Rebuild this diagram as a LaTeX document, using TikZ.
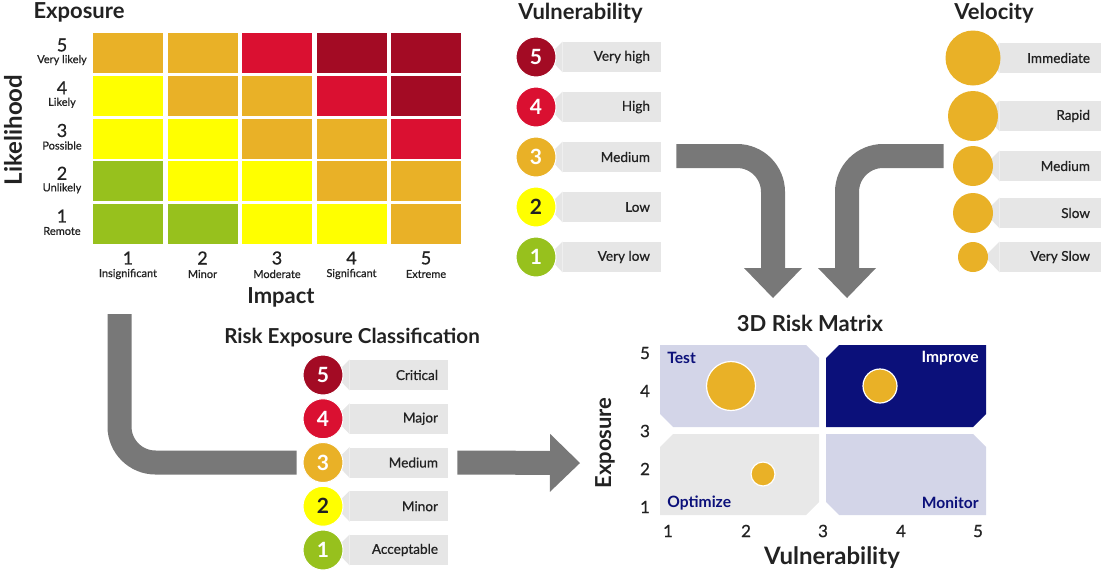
\documentclass[tikz,border=0pt]{standalone}
\usepackage{fontspec}
\setmainfont{Lato}
\newfontfamily\medfont{Lato}[FakeBold=0.6]
\usetikzlibrary{positioning,arrows.meta,backgrounds}

\definecolor{lv1}{RGB}{151,193,29}
\definecolor{lv2}{RGB}{255,255,0}
\definecolor{lv3}{RGB}{233,177,39}
\definecolor{lv4}{RGB}{218,16,49}
\definecolor{lv5}{RGB}{163,11,36}
\definecolor{txt}{RGB}{34,34,34}
\definecolor{tabgray}{RGB}{230,230,230}
\definecolor{arrowgray}{RGB}{120,120,120}
\definecolor{navy}{RGB}{11,16,122}
\definecolor{lav}{RGB}{211,213,232}
\definecolor{pale}{RGB}{232,232,232}

\begin{document}
\begin{tikzpicture}[x=0.5pt, y=-0.5pt,
  ttl/.style={font=\bfseries\fontsize{11}{13}\selectfont, text=txt, inner sep=0},
  num/.style={font=\medfont\fontsize{9}{10}\selectfont, text=txt, inner sep=0},
  small/.style={font=\medfont\fontsize{5.5}{6}\selectfont, text=txt, inner sep=0},
  cell/.style={rectangle, minimum width=35pt, minimum height=20pt, inner sep=0},
  lvl/.style={circle, minimum size=20pt, inner sep=0, draw=white, line width=0.5pt, font=\bfseries\fontsize{10.5}{12}\selectfont},
  tab/.style={rectangle, fill=tabgray, minimum height=15pt, inner sep=0},
  tablbl/.style={font=\medfont\fontsize{6.8}{8}\selectfont, text=txt, inner sep=0},
  speed/.style={circle, fill=lv3, inner sep=0},
  bubble/.style={circle, fill=lv3, draw=white, line width=0.6pt, inner sep=0},
  quad/.style={font=\bfseries\fontsize{7.8}{9}\selectfont, inner sep=0},
  axnum/.style={font=\medfont\fontsize{8.5}{10}\selectfont, text=txt, inner sep=0},
  bigarrow/.style={draw=arrowgray, line width=12pt, rounded corners=18pt},
  bighead/.style={-{Triangle[width=29pt, length=15pt, line width=0pt]}}]
  \useasboundingbox (0,0) rectangle (1101,574);

  % Exposure matrix
  \node[ttl] (expTitle) at (79,12) {Exposure};
  \foreach \r/\row in {5/{3,3,4,5,5}, 4/{2,3,3,4,5}, 3/{2,2,3,3,4}, 2/{1,2,2,3,3}, 1/{1,1,2,2,3}}
    \foreach \lv [count=\c] in \row
      \node[cell, fill=lv\lv] (e\c\r) at ({128+74.5*(\c-1)}, {53+42.75*(5-\r)}) {};
  \foreach \r/\txt in {5/Very likely, 4/Likely, 3/Possible, 2/Unlikely, 1/Remote} {
    \node[num] (ln\r) at (62, {45+42.75*(5-\r)}) {\r};
    \node[small] (lt\r) at (62, {60+42.75*(5-\r)}) {\txt};
  }
  \foreach \c/\txt in {1/Insignificant, 2/Minor, 3/Moderate, 4/Significant, 5/Extreme} {
    \node[num] (in\c) at ({128+74.5*(\c-1)}, 258) {\c};
    \node[small] (it\c) at ({128+74.5*(\c-1)}, 274) {\txt};
  }
  \node[ttl] (impact) at (281,297) {Impact};
  \node[ttl, font=\bfseries\fontsize{12}{14}\selectfont, rotate=90] (likeli) at (13,130) {Likelihood};

  % Vulnerability
  \node[ttl] (vulTitle) at (580.5,13) {Vulnerability};
  \foreach \k/\txt/\tc in {5/Very high/white, 4/High/white, 3/Medium/white, 2/Low/txt, 1/Very low/white} {
    \node[tab, minimum width=49pt] (vt\k) at (612, {57+50*(5-\k)}) {};
    \fill[tabgray] (vt\k.north west) -- ++(-15,15) -- (vt\k.south west) -- cycle;
    \node[tablbl, anchor=east] at ([xshift=-5.5pt]vt\k.east) {\txt};
    \node[lvl, fill=lv\k, text=\tc] (v\k) at (536, {57+50*(5-\k)}) {\k};
  }

  % Velocity
  \node[ttl] (velTitle) at (994,13) {Velocity};
  \foreach \k/\d/\y/\txt in {1/27.5/58/Immediate, 2/25/116/Rapid, 3/20/166/Medium, 4/20/213/Slow, 5/15/257/Very Slow} {
    \node[tab, minimum width=50.5pt] (st\k) at (1050.5,\y) {};
    \fill[tabgray] (st\k.north west) -- ++(-15,15) -- (st\k.south west) -- cycle;
    \node[tablbl, anchor=east] at ([xshift=-5.5pt]st\k.east) {\txt};
    \node[speed, minimum size=\d pt] (s\k) at (973,\y) {};
  }

  % Risk exposure classification
  \node[ttl, font=\bfseries\fontsize{10.3}{12}\selectfont] (rcTitle) at (352,338) {Risk Exposure Classification};
  \foreach \k/\txt/\tc in {5/Critical/white, 4/Major/white, 3/Medium/white, 2/Minor/txt, 1/Acceptable/white} {
    \node[tab, minimum width=49pt] (rt\k) at (399, {375+43.75*(5-\k)}) {};
    \fill[tabgray] (rt\k.north west) -- ++(-15,15) -- (rt\k.south west) -- cycle;
    \node[tablbl, anchor=east] at ([xshift=-5pt]rt\k.east) {\txt};
    \node[lvl, fill=lv\k, text=\tc] (r\k) at (323, {375+43.75*(5-\k)}) {\k};
  }

  % 3D risk matrix
  \node[ttl] (mxTitle) at (810,323) {3D Risk Matrix};
  \fill[lav] (660,345) -- (806,345) -- (819,358) -- (819,427) -- (673,427) -- (660,414) -- cycle;
  \fill[navy] (839,345) -- (986,345) -- (986,414) -- (973,427) -- (826,427) -- (826,358) -- cycle;
  \fill[pale] (673,434) -- (819,434) -- (819,502) -- (806,515) -- (660,515) -- (660,447) -- cycle;
  \fill[lav] (826,434) -- (973,434) -- (986,447) -- (986,515) -- (839,515) -- (826,502) -- cycle;
  \node[quad, text=navy, anchor=west] (qTest) at (667,358) {Test};
  \node[quad, text=white, anchor=east] (qImp) at (979,358) {Improve};
  \node[quad, text=navy, anchor=west] (qOpt) at (667,503) {Optimize};
  \node[quad, text=navy, anchor=east] (qMon) at (979,503) {Monitor};
  \node[bubble, minimum size=24.5pt] (b1) at (731,386) {};
  \node[bubble, minimum size=17pt] (b2) at (880,386) {};
  \node[bubble, minimum size=12pt] (b3) at (763,474) {};
  \foreach \k/\y in {5/353, 4/391, 3/431, 2/469, 1/507}
    \node[axnum] (my\k) at (645,\y) {\k};
  \foreach \k/\x in {1/668, 2/746, 3/823, 4/901, 5/978}
    \node[axnum] (mx\k) at (\x,531) {\k};
  \node[ttl, rotate=90] (mxExp) at (605,443) {Exposure};
  \node[ttl, font=\bfseries\fontsize{12}{14}\selectfont] (mxVul) at (832,558) {Vulnerability};

  % Arrows
  \coordinate (aTop) at (119.5,314);
  \coordinate (mxIn) at (580,463);
  \coordinate (vIn) at (773,298);
  \coordinate (velIn) at (847,298);
  \begin{pgfonlayer}{background}
    \draw[bigarrow] (aTop) |- ([xshift=-3pt]r3.west);
    \draw[bigarrow, bighead] ([xshift=4.5pt]rt3.east) -- (mxIn);
    \draw[bigarrow, bighead] ([xshift=7.5pt, yshift=0.5pt]vt3.east) -| (vIn);
    \draw[bigarrow, bighead] ([xshift=-4.5pt, yshift=5pt]s3.west) -| (velIn);
  \end{pgfonlayer}
\end{tikzpicture}
\end{document}
